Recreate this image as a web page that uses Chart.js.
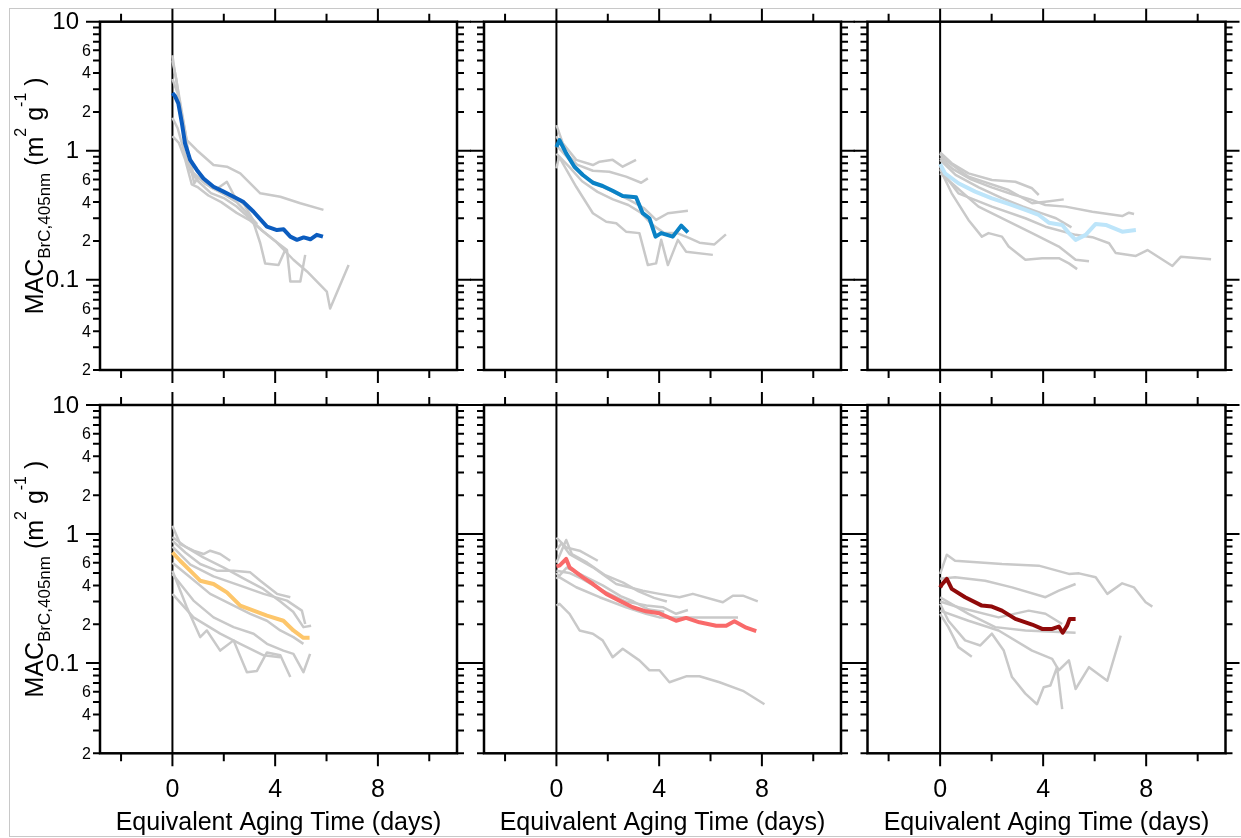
<!DOCTYPE html>
<html>
<head>
<meta charset="utf-8">
<script src="https://cdn.jsdelivr.net/npm/chart.js@4.4.1/dist/chart.umd.min.js"></script>
<style>
  html, body { margin: 0; padding: 0; background: #fff; }
  #wrap { position: relative; width: 1241px; height: 838px; overflow: hidden; background: #fff; }
  #wrap canvas { position: absolute; left: 0; top: 0; }
  #border { position: absolute; left: 9px; top: 8px; width: 1240px; height: 829px; border: 1px solid #c8c8c8; border-right: none; box-sizing: border-box; }
</style>
</head>
<body>
<div id="wrap"><div id="border"></div></div>
<script>
// axis ticks
const xTicks = [-2, 0, 2, 4, 6, 8, 10];
const xMajor = [0, 4, 8];
const xLabels = [0, 4, 8];
const yDecades = [0.01, 0.1, 1];
const yMinorMult = [2, 3, 4, 5, 6, 7, 8, 9];
const yMinorLabelled = [2, 4, 6];
const yMajorLabels = [[10, '10'], [1, '1'], [0.1, '0.1']];
const xTitle = 'Equivalent Aging Time (days)';

// [days, MAC] pairs
// panel 1 (top left)
const p1Main = [[0,2.8],[0.1,2.65],[0.23,2.33],[0.37,1.63],[0.49,1.14],[0.69,0.85],[0.95,0.71],[1.21,0.61],[1.6,0.526],[1.99,0.482],[2.38,0.44],[2.77,0.4],[3.16,0.337],[3.68,0.258],[4.07,0.243],[4.33,0.246],[4.59,0.216],[4.85,0.204],[5.11,0.213],[5.37,0.206],[5.62,0.223],[5.86,0.216]];
const p1Grey1 = [[0,5.0],[0.15,3.6],[0.3,2.2],[0.56,1.21],[0.95,1.01],[1.6,0.775],[2.12,0.752],[2.64,0.668],[3.42,0.468],[4.2,0.44],[4.98,0.392],[5.88,0.348]];
const p1Grey2 = [[0,5.5],[0.1,4.0],[0.3,2.4],[0.5,1.4],[0.7,0.75],[0.85,0.56],[1.0,0.62],[1.3,0.55],[1.7,0.5],[2.12,0.575],[2.4,0.45],[2.8,0.38],[3.1,0.3],[3.42,0.192],[3.61,0.134],[4.13,0.13],[4.39,0.17]];
const p1Grey3 = [[0,1.3],[0.25,1.15],[0.5,0.85],[0.75,0.55],[1.0,0.52],[1.4,0.45],[1.9,0.4],[2.5,0.33],[3.0,0.29],[3.5,0.24],[4.0,0.2],[4.46,0.17],[4.59,0.097],[4.98,0.097],[5.17,0.156]];
const p1Grey4 = [[0,1.8],[0.2,1.5],[0.45,1.0],[0.7,0.7],[1.0,0.58],[1.5,0.47],[2.0,0.43],[2.5,0.37],[3.0,0.3],[3.5,0.24],[4.0,0.2],[4.71,0.143],[5.24,0.116],[6.01,0.081],[6.14,0.06],[6.86,0.13]];
const p1Grey5 = [[0,3.6],[0.2,2.8],[0.4,1.6],[0.6,1.0],[0.8,0.68],[1.1,0.6],[1.5,0.52],[2.0,0.46],[2.5,0.4],[2.9,0.33],[3.3,0.27]];

// panel 2 (top middle)
const p2Main = [[0,1.07],[0.12,1.21],[0.38,0.955],[0.7,0.752],[1.03,0.649],[1.42,0.565],[1.8,0.533],[2.19,0.49],[2.58,0.446],[3.1,0.436],[3.36,0.328],[3.62,0.3],[3.86,0.216],[4.08,0.23],[4.53,0.216],[4.86,0.263],[5.12,0.233]];
const p2Grey1 = [[0,1.58],[0.25,1.14],[0.77,0.85],[1.42,0.775],[1.68,0.822],[2.19,0.85],[2.58,0.752],[3.1,0.85]];
const p2Grey2 = [[0,1.3],[0.3,1.0],[0.8,0.78],[1.42,0.7],[2.06,0.687],[2.71,0.63],[3.3,0.565],[3.56,0.611]];
const p2Grey3 = [[0,1.1],[0.4,0.9],[1.0,0.65],[1.6,0.55],[2.2,0.48],[2.8,0.42],[3.4,0.36],[3.88,0.291],[4.34,0.328],[5.12,0.343]];
const p2Grey4 = [[0,0.95],[0.5,0.75],[1.0,0.58],[1.6,0.48],[2.2,0.42],[2.8,0.38],[3.3,0.33],[3.7,0.27],[4.2,0.23],[4.7,0.23],[5.18,0.21],[5.57,0.194],[6.15,0.188],[6.6,0.225]];
const p2Grey5 = [[0,0.73],[0.1,0.9],[0.77,0.526],[1.42,0.328],[1.94,0.282],[2.33,0.274],[2.71,0.236],[3.23,0.23],[3.56,0.13],[3.88,0.134],[4.08,0.204],[4.34,0.13],[4.73,0.204],[5.05,0.165],[6.09,0.156]];

// panel 3 (top right)
const p3Main = [[0,0.789],[0.19,0.668],[0.71,0.56],[1.36,0.482],[2.01,0.428],[2.66,0.387],[3.31,0.348],[3.83,0.318],[4.22,0.277],[4.74,0.266],[5.0,0.23],[5.26,0.204],[5.65,0.223],[6.04,0.271],[6.43,0.266],[7.07,0.236],[7.6,0.243]];
const p3Grey1 = [[0,0.75],[0.3,0.6],[0.71,0.468],[2.01,0.369],[3.31,0.3],[4.09,0.258],[5.26,0.223],[5.91,0.214],[6.56,0.192],[6.82,0.161],[7.6,0.153],[8.05,0.17],[9.02,0.128],[9.35,0.151],[10.52,0.144]];
const p3Grey2 = [[0,0.88],[0.5,0.72],[1.2,0.6],[2.0,0.52],[2.8,0.46],[3.5,0.42],[4.09,0.38],[4.87,0.369],[5.91,0.337],[7.07,0.312],[7.33,0.331],[7.53,0.324]];
const p3Grey3 = [[0,0.95],[0.1,0.88],[1.1,0.63],[2.66,0.496],[3.57,0.392],[4.09,0.403],[4.8,0.42]];
const p3Grey4 = [[0,0.97],[0.45,0.8],[1.1,0.668],[2.01,0.593],[2.92,0.575],[3.57,0.512],[3.83,0.454]];
const p3Grey5 = [[0,0.668],[0.5,0.55],[1.49,0.369],[2.53,0.291],[3.57,0.23],[4.61,0.181],[5.26,0.143],[5.78,0.139]];
const p3Grey6 = [[0,0.72],[0.45,0.468],[1.1,0.291],[1.62,0.216],[1.88,0.23],[2.4,0.216],[2.66,0.181],[3.31,0.143],[3.96,0.147],[4.61,0.147],[5.0,0.134],[5.32,0.121]];
const p3Grey7 = [[0,0.85],[0.6,0.65],[1.5,0.52],[2.4,0.43],[3.2,0.37],[3.9,0.33],[4.5,0.3],[5.1,0.255]];

// panel 4 (bottom left)
const p4Main = [[0,0.72],[0.3,0.621],[0.69,0.52],[1.08,0.435],[1.6,0.41],[2.12,0.353],[2.64,0.279],[3.16,0.255],[3.68,0.233],[4.32,0.213],[4.71,0.179],[5.1,0.157],[5.34,0.157]];
const p4Grey1 = [[0,1.16],[0.3,0.837],[0.82,0.743],[1.21,0.7],[1.47,0.743],[1.86,0.7],[2.25,0.621]];
const p4Grey2 = [[0,0.887],[0.5,0.72],[1.08,0.586],[1.73,0.52],[2.38,0.52],[3.03,0.505],[3.42,0.435],[4.07,0.344],[4.59,0.324]];
const p4Grey3 = [[0,0.8],[0.7,0.58],[1.6,0.47],[2.64,0.398],[3.55,0.344],[4.46,0.305],[5.04,0.255],[5.17,0.201]];
const p4Grey4 = [[0,0.491],[0.82,0.305],[1.6,0.226],[2.38,0.19],[3.16,0.169],[3.68,0.141],[4.32,0.125],[4.71,0.118],[5.1,0.085],[5.36,0.118]];
const p4Grey5 = [[0,0.6],[0.69,0.462],[1.47,0.344],[2.25,0.288],[3.03,0.241],[3.68,0.213],[4.2,0.179],[4.71,0.159],[5.1,0.141]];
const p4Grey6 = [[0,0.52],[0.56,0.271],[1.08,0.159],[1.34,0.179],[1.86,0.125],[2.38,0.15],[2.9,0.085],[3.29,0.087],[3.68,0.121],[4.2,0.115],[4.59,0.078]];
const p4Grey7 = [[0,0.344],[0.82,0.226],[1.86,0.169],[2.64,0.141],[3.55,0.115],[4.2,0.111]];
const p4Grey8 = [[0,0.95],[0.5,0.8],[1.2,0.66],[2.0,0.55],[2.8,0.45],[3.5,0.38],[4.2,0.3],[4.7,0.25],[5.1,0.19],[5.4,0.195]];

// panel 5 (bottom middle)
const p5Main = [[0,0.562],[0.12,0.569],[0.38,0.641],[0.51,0.552],[1.03,0.462],[1.42,0.41],[1.94,0.344],[2.45,0.305],[2.97,0.271],[3.49,0.252],[4.01,0.243],[4.66,0.213],[5.05,0.224],[5.57,0.207],[6.22,0.195],[6.61,0.195],[6.93,0.211],[7.39,0.188],[7.78,0.177]];
const p5Grey1 = [[0,0.75],[0.2,0.85],[0.51,0.7],[1.42,0.552],[2.33,0.41],[3.36,0.364],[4.01,0.344],[4.79,0.324],[5.31,0.344],[6.48,0.296],[6.87,0.333],[7.26,0.333],[7.84,0.301]];
const p5Grey2 = [[0,0.94],[0.38,0.787],[0.9,0.743],[1.61,0.621]];
const p5Grey3 = [[0,0.5],[0.12,0.462],[0.77,0.387],[1.68,0.324],[2.71,0.271],[3.49,0.241],[4.01,0.226],[5.31,0.226],[7.07,0.226]];
const p5Grey4 = [[0,0.52],[0.5,0.5],[1.0,0.45],[1.8,0.364],[2.7,0.3],[3.5,0.28],[4.14,0.271],[4.66,0.241],[5.12,0.258]];
const p5Grey5 = [[0,0.6],[0.38,0.9],[0.6,0.7],[1.2,0.6],[1.9,0.48],[2.6,0.42],[3.2,0.36],[3.8,0.32],[4.3,0.3]];
const p5Grey6 = [[0,0.279],[0.12,0.288],[0.51,0.241],[0.9,0.179],[1.42,0.169],[1.8,0.15],[2.19,0.111],[2.58,0.129],[3.23,0.105],[3.62,0.088],[4.01,0.088],[4.4,0.071],[5.05,0.079],[5.57,0.079],[6.35,0.071],[7.26,0.061],[8.1,0.048]];
const p5Grey7 = [[0,0.45],[0.4,0.55],[1.0,0.48],[1.8,0.4],[2.5,0.33],[3.0,0.3],[3.6,0.26],[4.2,0.25]];

// panel 6 (bottom right)
const p6Main = [[0,0.386],[0.06,0.405],[0.26,0.449],[0.45,0.376],[0.97,0.324],[1.62,0.279],[2.01,0.274],[2.4,0.255],[2.92,0.22],[3.57,0.199],[3.96,0.184],[4.35,0.184],[4.61,0.192],[4.76,0.172],[4.93,0.195],[5.03,0.22],[5.26,0.22]];
const p6Grey1 = [[0,0.491],[0.26,0.692],[0.58,0.622],[2.4,0.586],[3.83,0.569],[5.0,0.491],[5.39,0.496],[6.04,0.462],[6.49,0.344],[7.07,0.415],[7.53,0.386],[7.98,0.296],[8.24,0.274]];
const p6Grey2 = [[0,0.45],[0.58,0.462],[1.75,0.435],[2.79,0.386],[4.09,0.324],[4.61,0.364],[5.26,0.41]];
const p6Grey3 = [[0,0.324],[0.4,0.29],[1.1,0.241],[2.14,0.19],[3.31,0.179],[5.26,0.172]];
const p6Grey4 = [[0,0.3],[0.71,0.271],[2.27,0.226],[3.44,0.255],[4.09,0.241],[4.74,0.201]];
const p6Grey5 = [[0,0.241],[0.32,0.19],[0.71,0.133],[1.23,0.112]];
const p6Grey6 = [[0,0.288],[0.32,0.213],[0.97,0.15],[1.56,0.137],[2.01,0.169],[2.47,0.125],[2.79,0.078],[3.31,0.058],[3.76,0.048],[4.02,0.065],[4.28,0.067],[4.54,0.093],[4.74,0.044]];
const p6Grey7 = [[0,0.255],[1.1,0.213],[2.27,0.179],[3.57,0.125],[4.35,0.108],[4.61,0.088],[5.0,0.105],[5.26,0.063],[5.78,0.093],[6.49,0.073],[7.01,0.163]];

const GREY = '#c9c9c9';
const FONT = '"Liberation Sans", Arial, sans-serif';

const panels = [
    { row: 0, col: 0, main: p1Main, color: '#0b5cbf', grey: [p1Grey1, p1Grey2, p1Grey3, p1Grey4, p1Grey5] },
    { row: 0, col: 1, main: p2Main, color: '#0a82c6', grey: [p2Grey1, p2Grey2, p2Grey3, p2Grey4, p2Grey5] },
    { row: 0, col: 2, main: p3Main, color: '#bde5fa', grey: [p3Grey1, p3Grey2, p3Grey3, p3Grey4, p3Grey5, p3Grey6, p3Grey7] },
    { row: 1, col: 0, main: p4Main, color: '#fdc66b', grey: [p4Grey1, p4Grey2, p4Grey3, p4Grey4, p4Grey5, p4Grey6, p4Grey7, p4Grey8] },
    { row: 1, col: 1, main: p5Main, color: '#f96a6a', grey: [p5Grey1, p5Grey2, p5Grey3, p5Grey4, p5Grey5, p5Grey6, p5Grey7] },
    { row: 1, col: 2, main: p6Main, color: '#900a0a', grey: [p6Grey1, p6Grey2, p6Grey3, p6Grey4, p6Grey5, p6Grey6, p6Grey7] }
];

// plot-area boxes (pixels)
const colBox = [[100, 457], [484, 841], [867.5, 1225.5]];
const rowBox = [[21.7, 370], [405, 753.3]];
const W = 1241, H = 838;

function yTickList() {
    const list = [{ v: 10, major: true, m: 10 }];
    yDecades.forEach(d => {
        list.push({ v: d * 10, major: true, m: 1 });
        yMinorMult.forEach(m => {
            const v = Number((m * d).toPrecision(3));
            if (v >= 0.02) list.push({ v, major: false, m });
        });
    });
    return list;
}

function drawYTitle(ctx, x, cy) {
    const parts = [
        { text: 'MAC', size: 25, dy: 0 },
        { text: 'BrC,405nm', size: 17, dy: 7 },
        { text: ' (m', size: 25, dy: 0 },
        { text: '2', size: 16, dy: -17 },
        { text: ' g', size: 25, dy: 0 },
        { text: '-1', size: 16, dy: -17 },
        { text: ' )', size: 25, dy: 0 }
    ];
    let total = 0;
    parts.forEach(p => { ctx.font = p.size + 'px ' + FONT; p.w = ctx.measureText(p.text).width; total += p.w; });
    ctx.save();
    ctx.translate(x, cy);
    ctx.rotate(-Math.PI / 2);
    ctx.textAlign = 'left';
    ctx.textBaseline = 'alphabetic';
    ctx.fillStyle = '#000';
    let pos = -total / 2;
    parts.forEach(p => {
        ctx.font = p.size + 'px ' + FONT;
        ctx.fillText(p.text, pos, p.dy);
        pos += p.w;
    });
    ctx.restore();
}

const framePlugin = {
    id: 'panelFrame',
    beforeDatasetsDraw(chart) {
        const { top, bottom } = chart.chartArea;
        const x0 = chart.scales.x.getPixelForValue(0);
        const ctx = chart.ctx;
        ctx.save();
        ctx.strokeStyle = '#000';
        ctx.lineWidth = 2;
        ctx.beginPath();
        ctx.moveTo(x0, top);
        ctx.lineTo(x0, bottom);
        ctx.stroke();
        ctx.restore();
    },
    afterDatasetsDraw(chart, args, opts) {
        const ctx = chart.ctx;
        const { left, right, top, bottom } = chart.chartArea;
        const xs = chart.scales.x, ys = chart.scales.y;
        ctx.save();
        ctx.strokeStyle = '#000';
        ctx.lineWidth = 2.5;
        ctx.strokeRect(left, top, right - left, bottom - top);

        ctx.lineWidth = 2;
        ctx.beginPath();
        xTicks.forEach(t => {
            const px = xs.getPixelForValue(t);
            const len = xMajor.includes(t) ? 13 : 8;
            ctx.moveTo(px, top); ctx.lineTo(px, top - len);
            ctx.moveTo(px, bottom); ctx.lineTo(px, bottom + len);
        });
        const yt = yTickList();
        yt.forEach(t => {
            const py = ys.getPixelForValue(t.v);
            const len = t.major ? 14 : 7;
            ctx.moveTo(left, py); ctx.lineTo(left - len, py);
            ctx.moveTo(right, py); ctx.lineTo(right + len, py);
        });
        ctx.stroke();

        ctx.fillStyle = '#000';
        if (opts.col === 0) {
            ctx.textAlign = 'right';
            ctx.textBaseline = 'middle';
            ctx.font = '24px ' + FONT;
            yMajorLabels.forEach(([v, s]) => ctx.fillText(s, left - 21, ys.getPixelForValue(v) + 1));
            ctx.font = '16px ' + FONT;
            yt.filter(t => !t.major && yMinorLabelled.includes(t.m)).forEach(t => {
                ctx.fillText(String(t.m), left - 9, ys.getPixelForValue(t.v) + 1);
            });
            drawYTitle(ctx, 43, (top + bottom) / 2);
        }
        if (opts.row === 1) {
            ctx.textAlign = 'center';
            ctx.textBaseline = 'alphabetic';
            ctx.font = '25px ' + FONT;
            xLabels.forEach(v => ctx.fillText(String(v), xs.getPixelForValue(v), bottom + 44));
            ctx.fillText(xTitle, (left + right) / 2, bottom + 77);
        }
        ctx.restore();
    }
};

const wrap = document.getElementById('wrap');

panels.forEach(p => {
    const canvas = document.createElement('canvas');
    canvas.width = W;
    canvas.height = H;
    wrap.appendChild(canvas);

    const [l, r] = colBox[p.col];
    const [t, b] = rowBox[p.row];

    const datasets = [{
        data: p.main.map(([x, y]) => ({ x, y })),
        borderColor: p.color,
        borderWidth: 4,
        pointRadius: 0,
        tension: 0,
        borderJoinStyle: 'round'
    }];
    p.grey.forEach(g => {
        datasets.push({
            data: g.map(([x, y]) => ({ x, y })),
            borderColor: GREY,
            borderWidth: 2.5,
            pointRadius: 0,
            tension: 0,
            borderJoinStyle: 'round'
        });
    });

    new Chart(canvas, {
        type: 'line',
        data: { datasets },
        options: {
            responsive: false,
            animation: false,
            events: [],
            layout: { padding: { left: l, right: W - r, top: t, bottom: H - b } },
            plugins: {
                legend: { display: false },
                tooltip: { enabled: false },
                panelFrame: { row: p.row, col: p.col }
            },
            scales: {
                x: { type: 'linear', min: -2.82, max: 11.08, display: false },
                y: { type: 'logarithmic', min: 0.02, max: 10, display: false }
            }
        },
        plugins: [framePlugin]
    });
});
</script>
</body>
</html>
